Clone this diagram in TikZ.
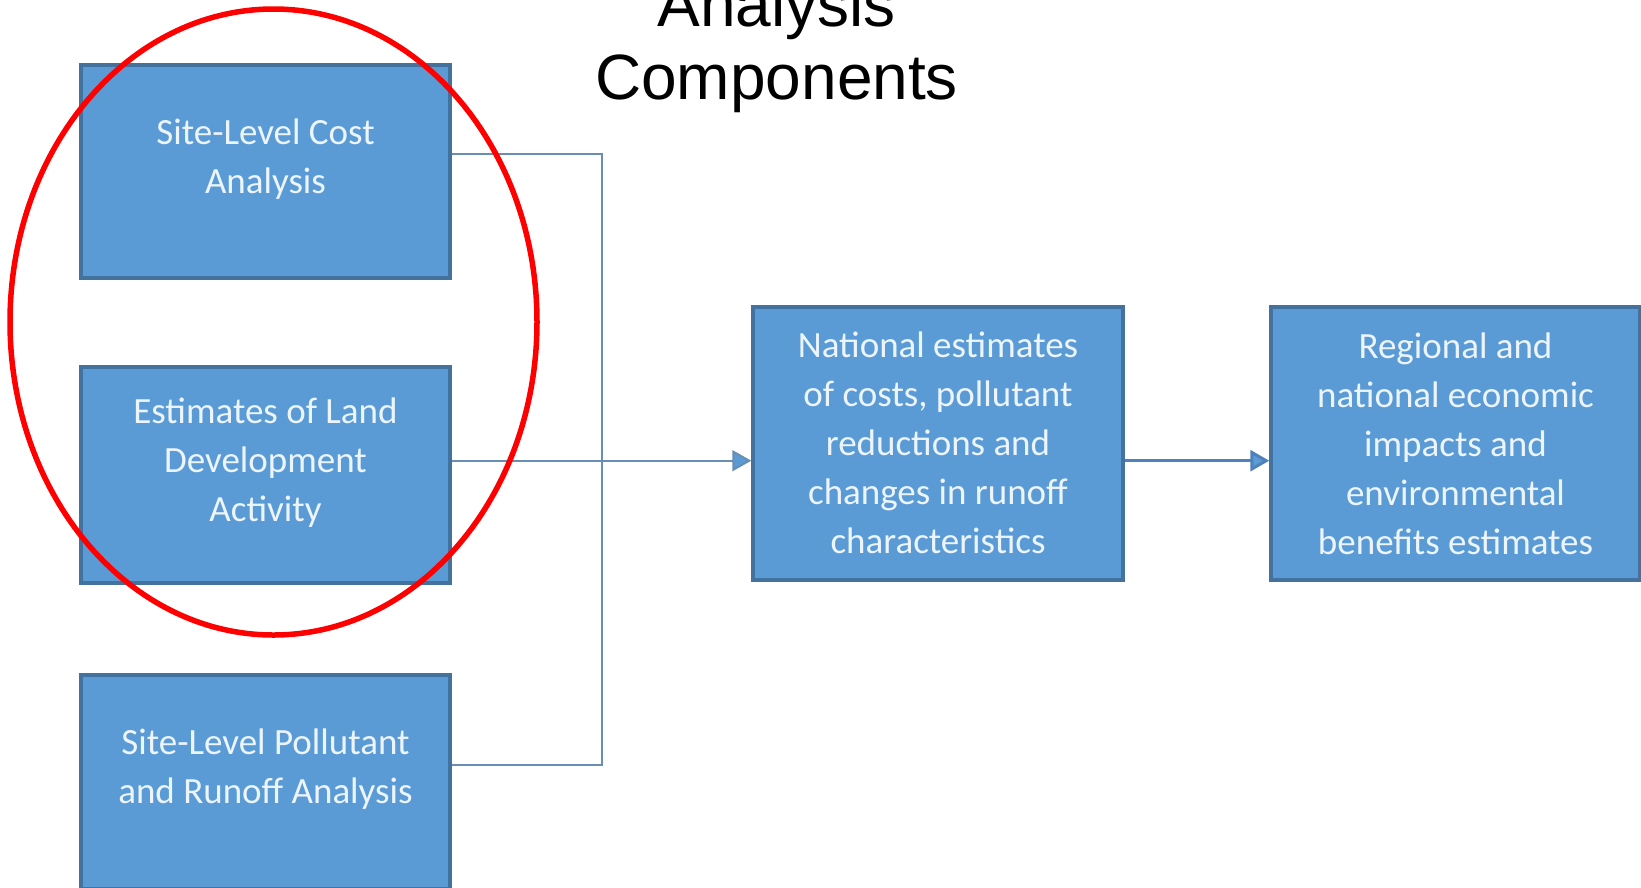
\documentclass[tikz,border=0pt]{standalone}
\usepackage{fontspec}
\setmainfont{Carlito}
\newfontfamily\headfont{Liberation Sans}
\usetikzlibrary{arrows.meta,shapes.geometric}
\definecolor{boxfill}{RGB}{91,155,213}
\definecolor{boxedge}{RGB}{68,114,158}
\definecolor{boxtext}{RGB}{236,244,252}
\definecolor{wire}{RGB}{104,142,180}
\definecolor{flow}{RGB}{79,129,189}
\begin{document}
\begin{tikzpicture}[x=1pt,y=-1pt,
  stage/.style={rectangle, draw=boxedge, line width=3.5pt, fill=boxfill,
    minimum width=369pt, inner sep=0pt},
  boxlabel/.style={text=boxtext, align=center, inner sep=0pt,
    font=\fontsize{37}{49}\selectfont},
  link/.style={draw=wire, line width=2pt},
  tip/.style={-{Triangle[length=19pt,width=21pt,fill=boxfill]}},
  headline/.style={align=center, inner sep=0pt,
    font=\headfont\fontsize{64}{73}\selectfont}]
\useasboundingbox (0,0) rectangle (1641,887);
\clip (0,0) rectangle (1641,887);

% input components on the left
\node[stage, minimum height=213pt,
  label={[boxlabel,yshift=12pt]center:{Site-Level Cost\\Analysis}}]
  (cost) at (265.5,171.5) {};
\node[stage, minimum height=216pt,
  label={[boxlabel,yshift=12pt]center:{Estimates of Land\\Development\\Activity}}]
  (devel) at (265.5,475) {};
\node[stage, minimum height=214pt,
  label={[boxlabel,yshift=13pt]center:{Site-Level Pollutant\\and Runoff Analysis}}]
  (runoff) at (265.5,782) {};

% national and regional results
\node[stage, minimum width=370pt, minimum height=273pt,
  label={[boxlabel,yshift=1pt]center:{National estimates\\of costs, pollutant\\reductions and\\changes in runoff\\characteristics}}]
  (national) at (938,443.5) {};
\node[stage, minimum height=273pt,
  label={[boxlabel]center:{Regional and\\national economic\\impacts and\\environmental\\benefits estimates}}]
  (regional) at (1455.5,443.5) {};

% bracket joining the three inputs
\coordinate (hub) at (602,460.7);
\draw[link] ([yshift=17.5pt]cost.east) -| (hub);
\draw[link] ([yshift=17pt]runoff.east) -| (hub);
\draw[link, tip] (devel.east |- hub) -- (national.west |- hub);
\draw[draw=flow, line width=3pt, tip] (national.east |- hub) -- (regional.west |- hub);

% highlight ring
\node[ellipse, draw=red, line width=5.5pt, minimum width=527pt,
  minimum height=626pt, inner sep=0pt] (focus) at (273.5,322) {};

% heading
\node[headline, anchor=south] (title) at (776.6,113) {Analysis\\Components};
\end{tikzpicture}
\end{document}
